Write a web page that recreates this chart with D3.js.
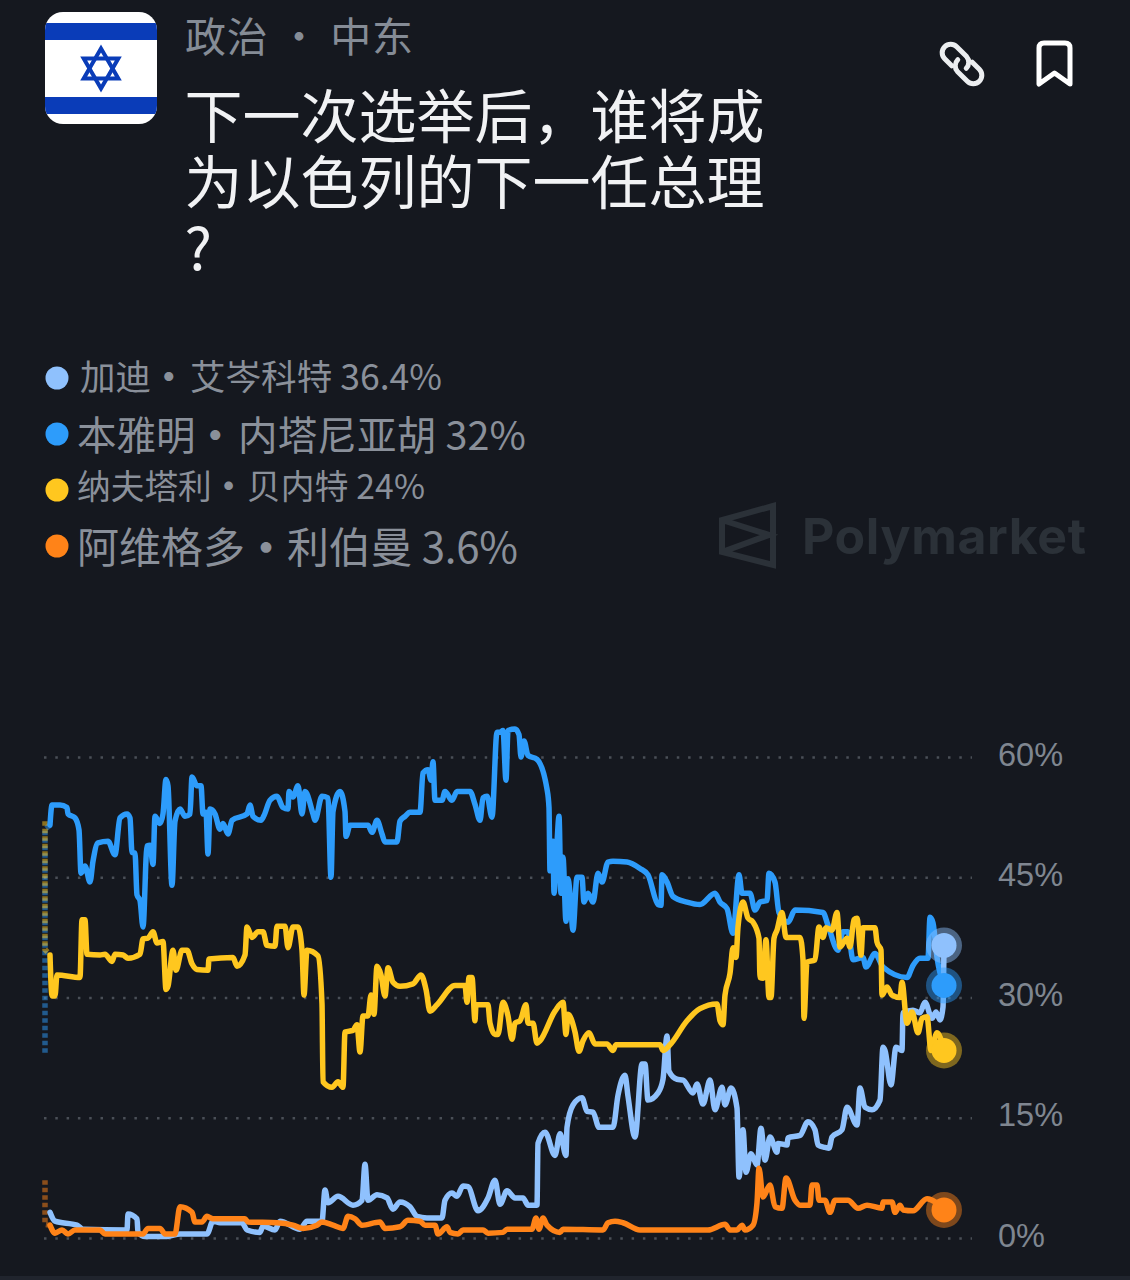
<!DOCTYPE html>
<html><head><meta charset="utf-8">
<script src="https://cdn.jsdelivr.net/npm/d3@7/dist/d3.min.js"></script>
<style>html,body{margin:0;padding:0;background:#15181f;overflow:hidden}svg{display:block}</style>
</head><body><div id="c"></div>
<script>
const yTicks=[0,15,30,45,60];
const subtitle="政治 · 中东";
const titleLines=["下一次选举后，谁将成","为以色列的下一任总理","?"];
const legendFirst=["加迪","本雅明","纳夫塔利","阿维格多"];
const legendLast=["艾岑科特 36.4%","内塔尼亚胡 32%","贝内特 24%","利伯曼 3.6%"];
const seriesColors=["#8fc1fd","#2d9cfb","#ffc71f","#ff8318"];

const netanyahuT=[6,8,16,23,24,31,35,37,41,46,49,54,64,71,76,83,86,88,91,93,96,99,103,106,109,111,116,119,122,124,128,131,136,141,146,148,153,157,159,162,164,166,171,176,179,184,188,203,206,209,217,220,226,233,239,244,245,249,254,258,261,269,271,278,284,287,289,296,301,302,306,324,328,333,338,341,353,356,361,366,376,379,384,387,389,391,398,401,408,413,426,431,436,439,443,448,453,456,459,462,464,471,475,477,480,484,493,503,505,506,509,510,513,515,517,519,522,524,526,529,533,538,540,544,549,554,558,564,569,583,596,604,614,617,618,623,629,643,656,671,676,683,689,695,698,706,711,716,723,725,731,735,744,751,779,784,794,799,804,809,819,822,831,839,863,869,876,884,886,889,893,900];
const netanyahuV=[51.5,54,54,53.7,52.9,52.4,50.9,45.5,46.4,44.4,47,49.3,49.5,47.8,52.4,52.9,52.4,48.1,48,42.8,42.1,38.8,48.9,49,46.6,52.6,51.7,52.9,57.2,56.4,44,52,53.5,52.6,52.9,57.5,56.4,56.4,52.9,53.1,47.9,53.5,52.9,51,51.7,50.4,52.1,52.9,54,52.6,52.1,52.7,54.6,55.1,53.7,53.5,55.7,55,56.4,52.9,55.7,52.9,52.1,55.1,54.9,45,53.2,55.7,53.2,50.1,51.5,51.5,50.6,52.1,50.4,49.4,49.4,52,52.6,53.1,53.1,58,58.4,57.1,59.4,54.6,54.6,55.7,54.6,55.7,55.7,54.1,52.1,54.9,55.1,52.5,63.1,63.1,63.3,57.1,63.3,63.5,62.8,60,62,60.2,59.7,56,53.7,45.8,49.5,43,49.3,52.6,43,47.5,39.5,44.8,43,38.4,45,45,41.9,43,41.9,45.5,44.4,46.9,47,46.9,46.1,45.3,41.6,41.5,45.3,44.4,42.6,41.9,41.6,43,41.9,41.1,38,45.3,43,43,40.9,41.9,42.1,45.5,44.4,40.6,39.4,40.9,40.6,39,35.9,38.2,38.2,34.7,35,33.8,35.5,33.8,32.5,34,34.9,34.9,40,39.3,35,31.5];

const bennettT=[6,8,11,13,36,38,41,43,56,61,68,71,79,84,96,99,104,109,113,119,122,124,129,132,138,143,148,153,164,165,189,193,201,203,208,214,219,223,231,233,241,244,249,254,258,260,263,274,278,279,288,294,299,301,309,313,316,319,324,327,330,333,337,341,344,349,356,369,377,382,386,393,411,421,423,425,428,431,432,444,446,451,454,459,464,468,471,476,482,484,489,493,496,511,519,522,524,531,535,539,545,551,563,569,572,616,619,626,643,656,673,676,679,681,686,689,692,694,699,704,709,715,716,719,722,725,727,730,733,738,742,756,759,760,763,771,775,779,782,788,793,796,803,806,810,813,817,819,831,833,837,838,843,848,856,858,863,868,874,878,883,887,893,900];
const bennettV=[35.3,30.2,30.2,32.8,32.5,39.7,39.7,35.4,35.3,35.4,34.5,35.4,35.3,34.9,35.4,37.3,37.4,38.2,36.8,37,31,31.4,35.9,33.4,35.9,35.9,34.2,33.5,33.4,34.8,35,33.9,35.3,38.8,37.5,38.2,38.2,36.5,36.4,38.9,38.9,36.2,38.8,38.8,35.9,30.3,35.9,35.2,29.2,19.5,18.8,19.5,18.8,25.7,25.9,26.6,23.2,27.7,27.7,30.3,27.9,33.9,32.8,30.2,33.7,31.9,31.4,31.7,32.8,31,28.3,29.1,31.5,31.5,29.4,32.5,32.5,27.1,29.1,29.1,26.8,25.4,25.4,29.4,27.7,24.8,26.8,27.1,29.1,26.8,26.8,24.3,24.6,28.3,29.4,25.4,27.9,25.7,23.3,24.6,25.6,24.2,24.2,23.4,24.1,24.1,23.4,24.1,27.1,28.6,29.2,27.1,26.6,30.3,33,36.2,35,38.8,41.9,39.9,39.4,37.4,32.5,32.4,37.2,30,30,37.4,38.4,40.6,37.5,37.5,34.7,27.4,34.4,34.7,38.8,37.5,38.7,38.4,40.6,36.3,37.4,36.3,39.7,39.9,35.3,38.7,38.7,36.9,35.9,30.3,31.3,30.3,30,31.9,26.8,28.2,25.6,27.4,27.6,23.4,25.6,23.4];

const eisenkotT=[6,11,33,39,83,84,93,94,101,123,136,163,169,176,198,203,216,219,231,236,256,263,278,281,284,294,309,318,321,324,333,343,349,356,366,373,383,398,401,408,413,419,424,434,444,451,456,463,471,479,484,493,494,501,511,516,522,523,529,538,543,549,555,569,574,581,584,591,598,601,604,614,619,623,625,633,639,649,653,659,666,671,678,681,687,693,695,699,702,707,713,717,721,726,733,734,743,744,756,764,771,774,781,785,788,798,803,813,816,821,828,836,839,841,847,852,858,859,869,876,881,888,892,896,899,900];
const eisenkotV=[3.2,2.1,1.6,1.1,1,3,2.4,0.7,0.2,0.2,0.5,0.5,2.1,1.9,1.9,1,0.7,1.5,1,2.1,1.1,2.1,2.1,6,4.4,5.2,4.1,4.7,9.2,4.7,5.4,5,3.6,4.5,3.9,2.7,2.5,2.5,4.7,5.6,5.2,6.5,6.4,3.4,5,7.2,4.2,5.9,5,5,4.1,4.1,11.8,13.2,10.3,13,10.3,13.8,16.6,17.5,15.8,15.7,13.8,13.8,17.8,20.3,17.7,12.6,21.7,21.7,17.2,18.1,19.8,25.2,20.8,19.8,19.7,18.1,19.2,16.7,19.7,16,18.8,16.6,18.7,16.2,7.6,13.5,8.2,10.5,9.1,13.7,9.7,12.6,10.7,11.8,11.6,12.5,12.8,14.5,13.5,11.6,11.3,11.2,12.6,13.5,16.3,14.1,18.7,16.3,16,17.2,23.8,23.4,19.1,23.8,23.4,28.1,28.4,28.1,29.4,27.4,28.2,27.2,28.8,36.5];

const liebermanT=[6,11,18,24,31,56,61,99,104,116,121,131,136,148,151,158,163,169,201,204,233,249,259,273,278,289,299,304,311,318,336,341,356,364,376,381,391,394,403,406,414,419,439,444,459,463,488,492,495,499,503,516,519,559,564,571,579,596,664,681,686,693,698,701,709,713,715,719,726,731,738,742,751,756,766,768,773,775,781,786,791,804,814,823,838,839,848,851,856,859,869,883,900];
const liebermanV=[1.6,0.6,1,0.5,1,1,0.5,0.5,1.2,1.2,0.5,0.5,3.9,3.2,2,2,2.7,2.4,2.4,2,1.9,1.6,1.2,1.6,2,1.6,1.2,2.7,2.4,1.6,2,1.2,1.4,2.2,2.1,1.6,1.6,0.5,1.4,0.7,0.5,1,1,0.6,0.7,1.1,1.1,2.5,1.1,2.5,1.6,0.7,1.1,1,1.9,2.1,1.9,1,1,1.7,1,1,1.6,1,1.6,4.4,8.7,5.1,6.6,3.9,3.7,7.5,4.7,4.1,4.1,6.6,6.6,4.7,4.7,3.2,4.7,4.7,3.7,4.1,3.7,4.5,4.5,3.2,4.1,3.5,3.4,4.9,3.5];

const leadT=[1,1,6];
const netanyahuLead=[23.1,51,51.5];
const bennettLead=[52,36,35.3];
const liebermanLead=[7.2,1.7,1.6];

const W=1130,H=1280;
const svg=d3.select("#c").append("svg").attr("width",W).attr("height",H);
const FONT='"Noto Sans CJK SC","Noto Sans",sans-serif';
svg.append("rect").attr("width",W).attr("height",H).attr("fill","#15181f");
svg.append("rect").attr("y",1276).attr("width",W).attr("height",4).attr("fill","#20242d");

/* flag */
const flag=svg.append("g");
const clip=svg.append("clipPath").attr("id","fc");
clip.append("rect").attr("x",45).attr("y",12).attr("width",112).attr("height",112).attr("rx",18);
const fg=flag.append("g").attr("clip-path","url(#fc)");
fg.append("rect").attr("x",45).attr("y",12).attr("width",112).attr("height",112).attr("fill","#fff");
fg.append("rect").attr("x",45).attr("y",23).attr("width",112).attr("height",17).attr("fill","#0a3cb8");
fg.append("rect").attr("x",45).attr("y",97).attr("width",112).attr("height",17).attr("fill","#0a3cb8");
const tri=(cx,cy,r,up)=>d3.range(3).map(i=>{const a=(up?-90:90)+i*120;return [cx+r*Math.cos(a*Math.PI/180),cy+r*Math.sin(a*Math.PI/180)]});
[true,false].forEach(u=>fg.append("polygon").attr("points",tri(101,68.5,20,u).map(p=>p.join(",")).join(" ")).attr("fill","none").attr("stroke","#0a3cb8").attr("stroke-width",4));

/* header text */
svg.append("text").attr("x",185).attr("y",52).attr("font-family",FONT).attr("font-size",41).attr("fill","#858c96").attr("textLength",228).text(subtitle);
titleLines.forEach((t,i)=>svg.append("text").attr("x",184.5).attr("y",[138,204,270][i]).attr("font-family",FONT).attr("font-size",58).attr("fill","#f1f2f4").text(t));

/* icons */
const ic=svg.append("g").attr("fill","none").attr("stroke","#eceef0").attr("stroke-width",5).attr("stroke-linecap","round").attr("stroke-linejoin","round");
const lk=ic.append("g").attr("transform","translate(962,64) rotate(45)");
lk.append("path").attr("d","M-6,8.5 H-16 A8.5,8.5 0 0 1 -16,-8.5 H-2 A8.5,8.5 0 0 1 6,0");
lk.append("path").attr("d","M6,-8.5 H16 A8.5,8.5 0 0 1 16,8.5 H2 A8.5,8.5 0 0 1 -6,0");
ic.append("path").attr("stroke","#fff").attr("d","M1039,48 Q1039,43 1044,43 H1065 Q1070,43 1070,48 V84 L1054.5,73 L1039,84 Z");

/* legend */
const legY=[378,434,490,546], legBase=[390,450,499,563], legX=[80,77,77,77], legSize=[35.5,39.5,33.7,42];
const legLastX=[190,238,247,287], legEndW=[252,288,178,231];
legendFirst.forEach((t,i)=>{
  svg.append("circle").attr("cx",57).attr("cy",legY[i]).attr("r",11.5).attr("fill",seriesColors[i]);
  const tx=svg.append("text").attr("y",legBase[i]).attr("font-family",FONT).attr("font-size",legSize[i]).attr("fill","#8a909a");
  tx.append("tspan").attr("x",legX[i]).text(t);
  tx.append("tspan").attr("font-weight",700).text("·");
  tx.append("tspan").attr("x",legLastX[i]).attr("textLength",legEndW[i]).text(legendLast[i]);
});

/* watermark */
const wm=svg.append("g");
wm.append("path").attr("d","M773,506 L722,520 V552 L773,565 Z M722,520 L769,535 L722,552").attr("fill","none").attr("stroke","#2b3138").attr("stroke-width",6).attr("stroke-linejoin","miter");
wm.append("text").attr("x",802).attr("y",554).attr("font-family","Inter,sans-serif").attr("font-weight",700).attr("font-size",50).attr("fill","#2b3138").attr("textLength",284).text("Polymarket");

/* scales */
const x=d3.scaleLinear().domain([0,900]).range([44,944]);
const y=d3.scaleLinear().domain([0,60]).range([1238,757]);

/* axis */
const axis=d3.axisRight(y).tickValues(yTicks).tickSize(928).tickFormat(d=>d+"%");
const ax=svg.append("g").attr("transform","translate(44,0)").call(axis);
ax.select(".domain").remove();
ax.selectAll("line").attr("stroke","#4a4f57").attr("stroke-width",2.5).attr("stroke-dasharray","2.5 8.8");
ax.selectAll("text").attr("x",954).attr("dy",null).attr("y",-0.5).attr("dominant-baseline","middle").attr("font-family",'"Liberation Sans",Arial,sans-serif').attr("font-size",32.5).attr("fill","#7f8690").attr("text-anchor","start");

/* lines */
const line=d3.line().x(d=>x(d[0])).y(d=>y(d[1])).curve(d3.curveMonotoneX);
const straight=d3.line().x(d=>x(d[0])).y(d=>y(d[1]));
const zip=(a,b)=>a.map((t,i)=>[t,b[i]]);
[[netanyahuLead,1],[liebermanLead,3],[bennettLead,2]].forEach(([v,c])=>{
  svg.append("path").attr("d",straight(zip(leadT,v))).attr("fill","none").attr("stroke",seriesColors[c]).attr("stroke-opacity",.5).attr("stroke-width",5.5).attr("stroke-dasharray","4.5 3");
});
const series=[[netanyahuT,netanyahuV,1],[eisenkotT,eisenkotV,0],[bennettT,bennettV,2],[liebermanT,liebermanV,3]];
series.forEach(([t,v,c])=>{
  svg.append("path").attr("d",line(zip(t,v))).attr("fill","none").attr("stroke",seriesColors[c]).attr("stroke-width",5.5).attr("stroke-linejoin","round").attr("stroke-linecap","round");
});
[[eisenkotT,eisenkotV,0],[netanyahuT,netanyahuV,1],[bennettT,bennettV,2],[liebermanT,liebermanV,3]].forEach(([t,v,c])=>{
  const cx=x(t[t.length-1]),cy=y(v[v.length-1]);
  svg.append("circle").attr("cx",cx).attr("cy",cy).attr("r",18).attr("fill",seriesColors[c]).attr("fill-opacity",.45);
  svg.append("circle").attr("cx",cx).attr("cy",cy).attr("r",12.5).attr("fill",seriesColors[c]);
});
</script></body></html>
